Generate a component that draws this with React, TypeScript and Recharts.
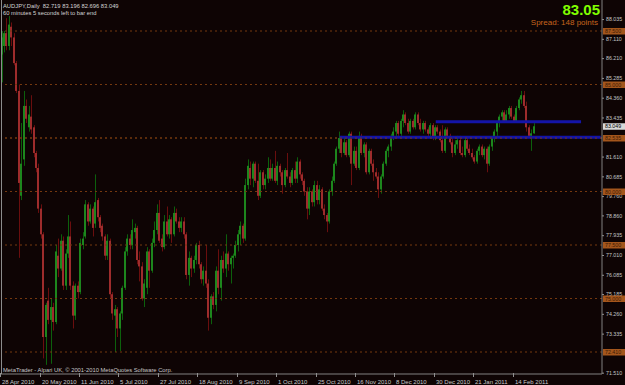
import React from "react";
import { ComposedChart, Bar, XAxis, YAxis, ReferenceLine } from "recharts";

const tickLabels = [
  "28 Apr 2010", "20 May 2010", "11 Jun 2010", "5 Jul 2010", "27 Jul 2010",
  "18 Aug 2010", "9 Sep 2010", "1 Oct 2010", "25 Oct 2010", "16 Nov 2010",
  "8 Dec 2010", "30 Dec 2010", "21 Jan 2011", "14 Feb 2011",
];

const opens = [
  86.4, 86.8, 87.4, 86.8, 87.7, 87.2, 86.0, 84.7, 79.8, 81.5,
  84.0, 83.0, 83.5, 83.0, 81.8, 81.1, 79.2, 78.0, 73.2, 74.9,
  74.0, 74.6, 73.9, 77.0, 76.4, 77.7, 75.6, 77.1, 77.9, 75.6,
  74.2, 75.6, 75.3, 77.5, 77.9, 79.4, 78.6, 79.2, 78.5, 79.6,
  78.8, 78.4, 77.9, 77.0, 77.7, 75.2, 74.2, 74.5, 73.6, 74.3,
  75.5, 77.2, 77.8, 77.5, 78.1, 78.3, 76.8, 76.5, 75.0, 75.5,
  77.2, 76.3, 77.6, 78.2, 79.0, 77.8, 77.4, 78.6, 78.0, 78.7,
  78.0, 79.0, 78.6, 78.3, 78.6, 78.0, 76.1, 76.9, 76.4, 76.8,
  77.5, 76.6, 75.9, 76.3, 75.7, 74.1, 75.1, 74.7, 76.3, 75.5,
  76.8, 76.4, 77.1, 76.6, 76.9, 77.0, 77.5, 78.0, 78.4, 77.8,
  80.3, 81.1, 80.6, 81.3, 80.5, 79.8, 80.9, 80.3, 80.6, 81.1,
  80.6, 81.1, 80.5, 81.2, 80.9, 80.3, 81.0, 80.7, 80.4, 81.0,
  80.6, 81.4, 80.8, 80.5, 80.0, 79.2, 80.0, 79.5, 80.3, 79.6,
  80.1, 79.2, 78.9, 78.6, 80.0, 80.5, 81.3, 82.0, 82.5, 81.8,
  82.3, 81.7, 82.7, 81.3, 81.9, 81.1, 82.6, 81.8, 82.2, 80.9,
  81.9, 81.3, 80.9, 80.7, 80.1, 80.7, 81.3, 81.9, 82.1, 82.6,
  82.8, 83.2, 82.7, 83.3, 83.6, 83.2, 82.8, 83.3, 83.0, 83.6,
  83.2, 82.9, 83.2, 82.9, 82.7, 83.1, 82.5, 83.0, 82.8, 82.4,
  81.9, 82.9, 82.6, 82.3, 81.8, 82.2, 82.4, 81.8, 81.7, 82.4,
  82.0, 81.8, 81.6, 81.4, 81.9, 82.1, 81.7, 82.0, 81.3, 82.1,
  82.5, 82.8, 83.2, 83.5, 83.7, 83.3, 83.6, 83.9, 83.5, 83.3,
  83.9, 84.3, 84.5, 84.0, 83.0, 82.6, 82.719,
];

const highs = [
  87.5, 87.5, 88.1, 88.2, 87.9, 87.4, 86.1, 85.0, 83.2, 84.7,
  84.3, 84.0, 84.5, 83.1, 81.9, 81.3, 79.4, 78.1, 74.8, 75.5,
  75.0, 74.8, 77.5, 77.8, 78.0, 77.9, 77.3, 78.9, 78.6, 75.8,
  75.7, 75.8, 77.8, 78.1, 79.6, 79.5, 79.4, 79.3, 80.8, 79.7,
  78.9, 78.5, 78.0, 78.0, 77.8, 75.3, 74.7, 74.6, 74.4, 75.6,
  77.4, 78.0, 78.0, 78.7, 78.5, 78.4, 77.2, 76.7, 75.9, 77.4,
  77.3, 77.8, 78.6, 79.4, 79.6, 78.0, 78.9, 79.3, 78.9, 78.8,
  79.3, 79.2, 78.8, 78.8, 78.8, 78.1, 77.2, 77.0, 77.0, 77.6,
  77.7, 76.7, 76.5, 77.5, 75.9, 75.2, 75.3, 76.5, 77.3, 77.0,
  77.2, 78.0, 77.2, 77.0, 77.1, 77.7, 78.2, 78.6, 78.5, 80.6,
  81.5, 81.4, 81.4, 81.4, 81.3, 81.0, 81.0, 80.8, 81.6, 81.5,
  81.3, 81.9, 81.4, 81.3, 81.0, 81.1, 81.8, 80.9, 81.1, 81.4,
  81.6, 81.5, 80.9, 80.6, 80.2, 80.2, 80.1, 80.5, 80.5, 80.3,
  80.2, 79.4, 79.0, 80.1, 80.7, 81.4, 82.1, 82.8, 82.6, 82.5,
  82.4, 82.8, 82.8, 82.1, 82.1, 82.8, 82.7, 82.3, 82.3, 82.0,
  82.0, 81.5, 81.1, 80.9, 80.8, 81.4, 82.0, 82.2, 82.7, 83.0,
  83.3, 83.3, 83.4, 83.8, 83.7, 83.4, 83.4, 83.4, 83.7, 83.7,
  83.4, 83.3, 83.3, 83.0, 83.2, 83.2, 83.1, 83.1, 82.9, 83.1,
  83.0, 83.0, 82.7, 82.5, 82.4, 82.6, 82.6, 82.1, 82.5, 82.5,
  82.2, 82.0, 81.7, 82.0, 82.2, 82.2, 82.1, 82.1, 82.2, 82.6,
  82.9, 83.3, 83.6, 83.8, 83.8, 83.8, 84.0, 84.0, 83.6, 84.0,
  84.4, 84.7, 84.7, 84.2, 83.1, 82.9, 83.196,
];

const lows = [
  85.1, 86.5, 86.6, 86.6, 86.8, 85.9, 84.6, 76.9, 79.6, 81.2,
  83.2, 82.8, 82.7, 81.6, 80.9, 79.0, 77.8, 72.2, 71.9, 73.8,
  71.95, 73.5, 73.8, 76.0, 76.3, 75.4, 75.4, 76.9, 75.4, 73.6,
  74.0, 75.0, 75.2, 77.3, 77.8, 78.4, 78.5, 77.9, 78.3, 78.6,
  78.1, 77.7, 76.8, 76.8, 75.0, 74.0, 72.5, 73.2, 72.55, 74.0,
  75.4, 77.0, 77.3, 77.3, 77.8, 76.6, 75.8, 74.9, 74.6, 75.2,
  75.5, 76.2, 77.4, 78.0, 77.6, 77.2, 77.3, 77.9, 77.8, 77.6,
  77.9, 78.5, 78.1, 78.1, 77.8, 75.9, 75.6, 76.0, 76.2, 76.6,
  76.4, 75.7, 75.6, 75.5, 73.5, 73.8, 74.5, 74.4, 75.2, 74.9,
  76.2, 76.0, 76.3, 75.7, 76.4, 76.9, 77.2, 77.5, 77.6, 77.7,
  80.1, 80.3, 80.2, 80.4, 79.6, 79.7, 80.1, 80.1, 80.4, 80.5,
  80.5, 80.4, 80.3, 80.7, 79.9, 80.2, 80.6, 80.2, 80.3, 80.4,
  80.4, 80.6, 80.3, 79.8, 78.7, 78.9, 79.3, 79.3, 79.4, 79.4,
  79.1, 78.7, 78.1, 78.5, 79.8, 80.4, 81.2, 81.8, 81.6, 81.7,
  81.6, 81.6, 80.3, 81.2, 81.0, 81.0, 81.7, 81.6, 80.8, 80.8,
  81.2, 80.5, 80.6, 79.7, 79.9, 80.6, 81.2, 81.6, 81.9, 82.4,
  82.6, 82.6, 82.6, 83.0, 83.1, 82.7, 82.7, 82.9, 82.9, 83.1,
  82.8, 82.7, 82.8, 82.6, 82.6, 82.4, 82.4, 82.7, 82.3, 81.8,
  81.8, 82.5, 82.2, 81.6, 81.7, 82.0, 81.7, 81.6, 81.6, 81.9,
  81.7, 81.5, 81.3, 81.3, 81.7, 81.6, 81.5, 80.9, 81.2, 81.9,
  82.3, 82.6, 83.0, 83.3, 83.2, 83.2, 83.4, 83.4, 83.2, 83.2,
  83.8, 84.1, 83.9, 82.8, 82.5, 81.9, 82.696,
];

const closes = [
  87.2, 87.4, 86.8, 87.8, 87.2, 86.0, 84.7, 80.4, 81.3, 84.0,
  83.4, 83.6, 82.9, 81.8, 81.1, 79.2, 78.0, 73.2, 74.7, 74.0,
  74.6, 73.9, 77.2, 76.4, 77.7, 75.6, 77.1, 77.9, 75.6, 74.2,
  75.6, 75.3, 77.6, 77.8, 79.4, 78.6, 79.2, 78.3, 79.5, 78.8,
  78.3, 77.9, 77.0, 77.7, 75.2, 74.3, 74.5, 73.6, 74.3, 75.5,
  77.2, 77.8, 77.5, 78.2, 78.3, 76.8, 76.5, 75.0, 75.7, 77.2,
  76.3, 77.6, 78.2, 79.0, 77.7, 77.4, 78.6, 78.0, 78.7, 78.0,
  79.0, 78.6, 78.3, 78.6, 78.0, 76.1, 76.9, 76.4, 76.8, 77.5,
  76.6, 75.9, 76.3, 75.7, 74.1, 75.1, 74.7, 76.3, 75.5, 76.8,
  76.4, 77.1, 76.6, 76.9, 77.0, 77.5, 78.0, 78.4, 77.8, 80.3,
  81.2, 80.6, 81.3, 80.5, 79.8, 80.9, 80.3, 80.6, 81.1, 80.6,
  81.1, 80.5, 81.2, 80.9, 80.3, 81.0, 80.7, 80.4, 81.0, 80.6,
  81.4, 80.8, 80.5, 80.0, 79.2, 80.0, 79.5, 80.3, 79.6, 80.1,
  79.2, 78.9, 78.6, 80.0, 80.5, 81.3, 82.0, 82.5, 81.8, 82.3,
  81.7, 82.7, 81.3, 81.9, 81.1, 82.6, 81.8, 82.2, 80.9, 81.9,
  81.3, 80.9, 80.7, 80.1, 80.7, 81.3, 81.9, 82.1, 82.6, 82.8,
  83.2, 82.7, 83.3, 83.6, 83.2, 82.8, 83.3, 83.0, 83.6, 83.2,
  82.9, 83.2, 82.9, 82.7, 83.1, 82.5, 83.0, 82.8, 82.4, 81.9,
  82.9, 82.6, 82.3, 81.8, 82.2, 82.4, 81.8, 81.7, 82.4, 82.0,
  81.8, 81.6, 81.4, 81.9, 82.1, 81.7, 82.0, 81.3, 82.1, 82.5,
  82.8, 83.2, 83.5, 83.7, 83.3, 83.6, 83.9, 83.5, 83.3, 83.9,
  84.3, 84.5, 84.0, 83.0, 82.6, 82.72, 83.049,
];

// price scale labels
const priceTicks = [
  88.035, 87.11, 86.21, 85.285, 84.36, 83.435, 81.61, 80.685, 79.76,
  78.86, 77.935, 77.01, 76.085, 75.185, 74.26, 73.335, 71.51,
];
const levelPrices = [87.5, 85, 82.5, 80, 77.5, 75, 72.5];
const levelTexts = ["87.500", "85.000", "82.535", "80.000", "77.500", "75.000", "72.410"];
const lastPrice = 83.049;
const upperTrend = 83.26;
const lowerTrend = 82.53;

const SLOTS = 244;
const data = Array.from({ length: SLOTS }, (_, i) => ({
  i,
  label: i % 16 === 0 ? tickLabels[i / 16] ?? "" : "",
  o: opens[i],
  h: highs[i],
  l: lows[i],
  c: closes[i],
}));

const BG = "#0e0404";
const FONT = "'Liberation Sans', Arial, sans-serif";
const DOTS = "#74380f";

const Candle = (props: any) => {
  const { x, y, width, height, payload } = props;
  if (!payload || payload.h == null) return <g />;
  const { o, h, l, c } = payload;
  const k = h - l > 0 ? height / (h - l) : 0;
  const cx = Math.floor(x + width / 2);
  const up = c >= o;
  const top = y + (h - Math.max(o, c)) * k;
  const bodyH = Math.max(1, Math.abs(o - c) * k);
  return (
    <g>
      <rect x={cx} y={y} width={1} height={Math.max(1, height)} fill={up ? "#0c600c" : "#6a0e0e"} />
      <rect x={cx - 1} y={top} width={2} height={bodyH} fill={up ? "#1d861d" : "#9e2c2c"} />
    </g>
  );
};

const DateTick = (props: any) => {
  const { x, payload } = props;
  const lab = data[payload.value]?.label;
  if (!lab) return <g />;
  const tx = Math.round(x);
  return (
    <g>
      <line x1={tx - 1.5} x2={tx - 1.5} y1={373} y2={377} stroke="#909090" />
      <text x={tx} y={383.5} fontSize={6} fill="#c8c8c8" fontFamily={FONT}>
        {lab}
      </text>
    </g>
  );
};

const PriceTick = (props: any) => {
  const { y, payload } = props;
  const v = payload.value;
  const li = levelPrices.indexOf(v);
  if (li >= 0) {
    return (
      <g>
        <rect x={603} y={y - 3} width={22} height={6.5} fill="#a4561c" />
        <text x={605} y={y + 2} fontSize={5.3} fill="#3c1a04" fontFamily={FONT}>
          {levelTexts[li]}
        </text>
      </g>
    );
  }
  if (v === lastPrice) {
    return (
      <g>
        <rect x={603} y={y - 3} width={22} height={6.5} fill="#d8d8d8" />
        <text x={605} y={y + 2} fontSize={5.3} fill="#000" fontFamily={FONT}>
          {v.toFixed(3)}
        </text>
      </g>
    );
  }
  return (
    <g>
      <line x1={602} x2={604} y1={y} y2={y} stroke="#909090" />
      <text x={606} y={y + 1.8} fontSize={5.3} fill="#c4c4c4" fontFamily={FONT}>
        {v.toFixed(3)}
      </text>
    </g>
  );
};

export default function App() {
  return (
    <div style={{ position: "fixed", left: 0, top: 0, width: 625, height: 385, background: BG }}>
      <ComposedChart
        width={625}
        height={385}
        data={data}
        margin={{ top: 0, right: 0, bottom: 0, left: 1 }}
      >
        <XAxis
          dataKey="i"
          type="category"
          interval={0}
          height={11}
          tick={DateTick}
          tickLine={false}
          axisLine={{ stroke: "#808080" }}
        />
        <YAxis
          orientation="right"
          type="number"
          domain={[71.472, 88.949]}
          allowDataOverflow
          ticks={[...priceTicks, ...levelPrices, lastPrice]}
          interval={0}
          width={23}
          tick={PriceTick}
          tickLine={false}
          axisLine={{ stroke: "#808080" }}
        />
        {levelPrices.map((p) => (
          <ReferenceLine key={p} y={p} stroke={DOTS} strokeDasharray="2 3" />
        ))}
        <Bar
          dataKey={(d: any) => (d.h == null ? null : [d.l, d.h])}
          barSize={2}
          shape={Candle}
          isAnimationActive={false}
        />
        <ReferenceLine
          segment={[{ x: 176, y: upperTrend }, { x: 235, y: upperTrend }]}
          stroke="#1414a8"
          strokeWidth={3}
        />
        <ReferenceLine
          segment={[{ x: 137, y: lowerTrend }, { x: 243, y: lowerTrend }]}
          stroke="#1414a8"
          strokeWidth={3}
        />
        <ReferenceLine y={82.5} stroke={DOTS} strokeDasharray="2 3" />
      </ComposedChart>
      <div style={{ position: "absolute", left: 1, top: 0, width: 1, height: 374, background: "#8c8c8c" }} />
      <svg
        width={625}
        height={385}
        style={{ position: "absolute", left: 0, top: 0, pointerEvents: "none" }}
      >
        <text x={3} y={8} fontSize={5.8} fill="#d4d4d4" fontFamily={FONT} style={{ whiteSpace: "pre" }}>
          {"AUDJPY,Daily  82.719 83.196 82.696 83.049"}
        </text>
        <text x={3} y={15} fontSize={5.8} fill="#d4d4d4" fontFamily={FONT}>
          60 minutes 5 seconds left to bar end
        </text>
        <text x={600} y={15} fontSize={15} fontWeight="bold" textAnchor="end" fill="#80ff00" fontFamily={FONT}>
          83.05
        </text>
        <text x={598} y={25} fontSize={8} textAnchor="end" fill="#c8641e" fontFamily={FONT}>
          Spread: 148 points
        </text>
        <text x={3} y={371.5} fontSize={5.8} fill="#c8c8c8" fontFamily={FONT}>
          MetaTrader - Alpari UK, © 2001-2010 MetaQuotes Software Corp.
        </text>
      </svg>
    </div>
  );
}
